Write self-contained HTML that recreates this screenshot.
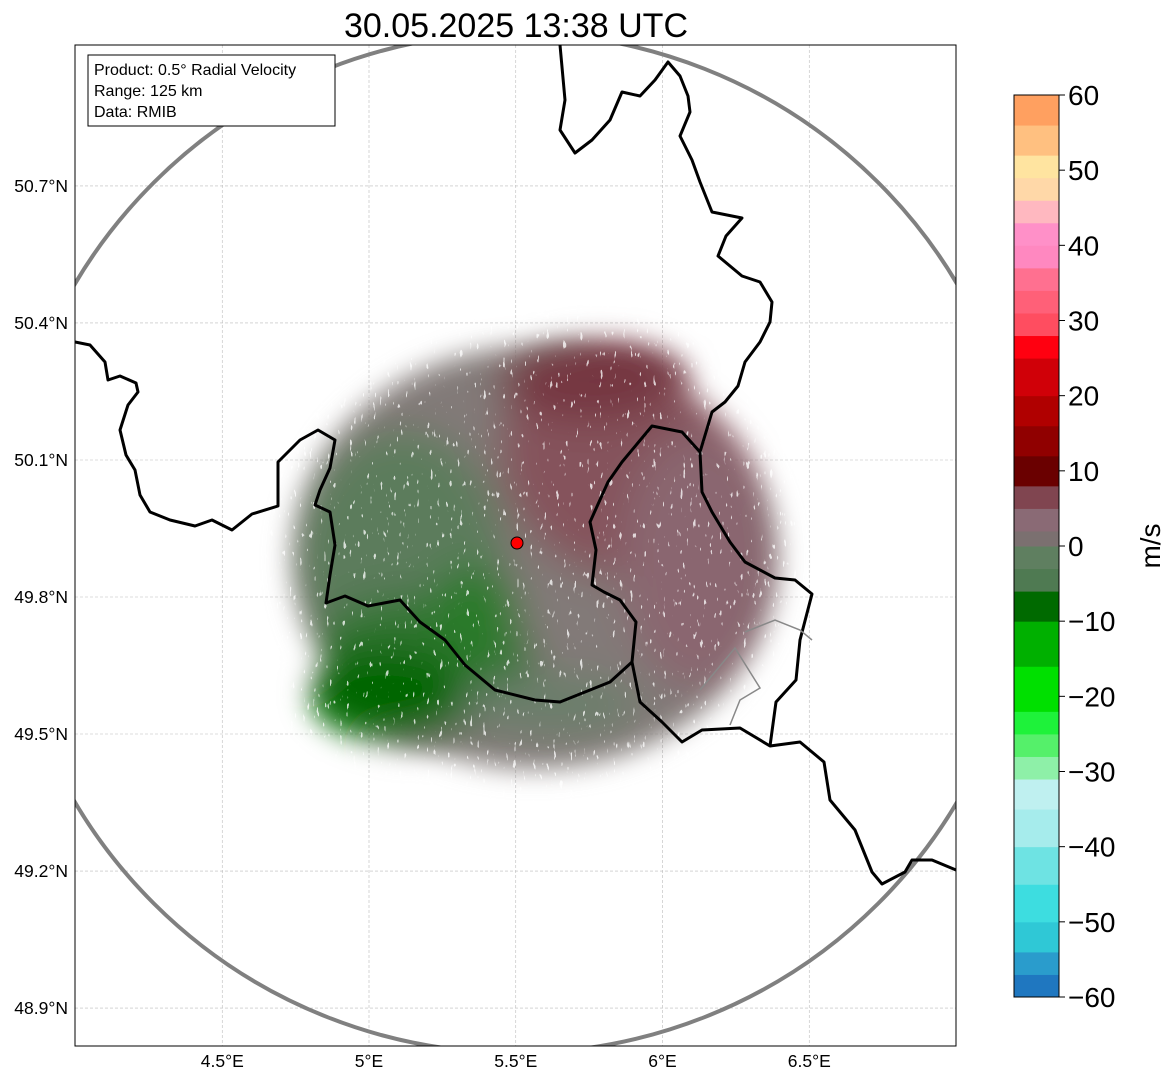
<!DOCTYPE html>
<html><head><meta charset="utf-8"><style>
body{margin:0;background:#fff;width:1171px;height:1081px;overflow:hidden;font-family:"Liberation Sans","DejaVu Sans",sans-serif}
svg text{font-family:"Liberation Sans","DejaVu Sans",sans-serif}
</style></head><body>
<svg id="s" width="1171" height="1081" viewBox="0 0 1171 1081">
<defs>
<clipPath id="clip"><rect x="75" y="45" width="881" height="1001"/></clipPath>
<filter id="blur" filterUnits="userSpaceOnUse" x="0" y="0" width="1171" height="1081"><feGaussianBlur stdDeviation="20"/></filter>
<filter id="mblur" filterUnits="userSpaceOnUse" x="0" y="0" width="1171" height="1081"><feGaussianBlur stdDeviation="14"/></filter>
<filter id="speck" filterUnits="userSpaceOnUse" x="0" y="0" width="1171" height="1081">
<feTurbulence type="fractalNoise" baseFrequency="0.3 0.1" numOctaves="2" seed="4" result="n"/>
<feColorMatrix in="n" type="matrix" values="0 0 0 0 1  0 0 0 0 1  0 0 0 0 1  0 0 0 -20 6" result="w"/>
<feComposite in="w" in2="SourceGraphic" operator="in"/>
</filter>
<mask id="em" maskUnits="userSpaceOnUse" x="0" y="0" width="1171" height="1081">
 <ellipse cx="535" cy="558" rx="245" ry="212" fill="#fff" filter="url(#mblur)"/>
 <ellipse cx="390" cy="700" rx="90" ry="55" fill="#fff" filter="url(#mblur)"/>
 <ellipse cx="600" cy="380" rx="90" ry="45" fill="#fff" filter="url(#mblur)"/>
</mask>
</defs>
<text x="516" y="37" font-size="34" text-anchor="middle">30.05.2025 13:38 UTC</text>
<g clip-path="url(#clip)">
 <g id="grid"></g>
 <g id="echo" mask="url(#em)">
  <g filter="url(#blur)">
   <ellipse cx="535" cy="555" rx="270" ry="240" fill="#827a78"/>
   <ellipse cx="640" cy="450" rx="140" ry="130" fill="#85525c"/>
   <ellipse cx="590" cy="380" rx="90" ry="40" fill="#743540"/>
   <ellipse cx="700" cy="560" rx="80" ry="130" fill="#8a6670"/>
   <ellipse cx="400" cy="560" rx="105" ry="130" fill="#5c7c5c"/>
   <ellipse cx="420" cy="665" rx="115" ry="70" fill="#307530"/>
   <ellipse cx="385" cy="695" rx="85" ry="50" fill="#006600"/>
   <ellipse cx="475" cy="615" rx="45" ry="50" fill="#2a7a2a"/>
   <ellipse cx="550" cy="705" rx="90" ry="30" fill="#6a7e6a"/>
  </g>
  <rect x="250" y="300" width="600" height="520" fill="#000" filter="url(#speck)" opacity="0.75"/>
 </g>
 <ellipse cx="516" cy="543" rx="512" ry="510" fill="none" stroke="#808080" stroke-width="4"/>
 <g fill="none" stroke="#000" stroke-width="3" stroke-linejoin="round">
  <polyline points="75,342 90,345 105,362 108,380 120,376 136,383 138,392 128,405 120,430 126,455 135,470 140,495 150,512 170,520 195,526 212,520 232,530 252,514 278,506 278,462 300,440 318,430 335,440 330,468 320,490 315,505 330,512 335,545 330,575 326,603 345,596 368,606 400,600 420,622 445,640 465,665 495,690 535,700 560,702 590,690 610,682 632,662 636,622 620,600 604,592 592,585 596,550 590,522 608,482 622,462 652,426 682,432 700,452 702,492 712,512 730,542 745,562 775,578 795,580 812,594 800,640 796,680 776,702 770,746"/>
  <polyline points="560,45 565,100 560,130 575,153 592,140 610,120 622,92 640,96 655,80 668,62 680,76 688,96 690,112 680,136 692,160 700,182 712,212 742,218 726,236 718,256 742,276 760,282 772,302 770,322 760,342 745,362 738,386 725,402 712,412 700,452"/>
  <polyline points="632,662 640,702 662,722 682,742 702,730 740,728 770,746 800,742 824,762 830,800 855,830 872,872 882,884 905,872 912,860 932,860 956,870"/>
 </g>
 <g fill="none" stroke="#888" stroke-width="1.5">
  <polyline points="745,632 775,620 800,630 812,640"/>
  <polyline points="700,690 735,648 760,688 740,700 730,725"/>
 </g>
 <circle cx="517" cy="543" r="6" fill="#f00" stroke="#000" stroke-width="1"/>
</g>
<rect x="75" y="45" width="881" height="1001" fill="none" stroke="#000" stroke-width="1"/>
<g id="xt"></g>
<g id="yt"></g>
<g>
 <rect x="88" y="55" width="247" height="71" fill="#fff" stroke="#000" stroke-width="1"/>
 <text x="94" y="75" font-size="16">Product: 0.5° Radial Velocity</text>
 <text x="94" y="96" font-size="16">Range: 125 km</text>
 <text x="94" y="117" font-size="16">Data: RMIB</text>
</g>
<g id="cb"></g>
<text transform="translate(1160,546) rotate(-90)" font-size="28" text-anchor="middle">m/s</text>
</svg>
<script>
const lonTicks=[4.5,5,5.5,6,6.5];
const lonLabels=["4.5°E","5°E","5.5°E","6°E","6.5°E"];
const latTicks=[50.7,50.4,50.1,49.8,49.5,49.2,48.9];
const latLabels=["50.7°N","50.4°N","50.1°N","49.8°N","49.5°N","49.2°N","48.9°N"];
const cbTicks=[60,50,40,30,20,10,0,-10,-20,-30,-40,-50,-60];
const cbBandLo=[-60,-57,-54,-50,-45,-40,-35,-31,-28,-25,-22,-16,-10,-6,-3,0,2,5,8,12,16,20,25,28,31,34,37,40,43,46,49,52,56];
const cbBandHi=[-57,-54,-50,-45,-40,-35,-31,-28,-25,-22,-16,-10,-6,-3,0,2,5,8,12,16,20,25,28,31,34,37,40,43,46,49,52,56,60];
const cbColors=["#1f77c0","#2a9ccc","#2fc8d6","#3ddde0","#6ee3e3","#a6ecec","#bff0f0","#8ef0a8","#55f06a","#1ef23a","#00e000","#00b000","#006a00","#4f7a52","#5f7f60","#7b7070","#8a6a75","#804550","#6a0000","#900000","#b00000","#d00008","#ff0010","#ff4d60","#ff6078","#ff7090","#ff88c0","#ff90c8","#ffb8c0","#ffd8a8","#ffe4a0","#ffc080","#ffa060"];
const NS="http://www.w3.org/2000/svg";
function X(lon){return 369+(lon-5)*293.5;}
function Y(lat){return 597-(lat-49.8)*456.7;}
function CB(v){return 997-(v+60)/120*902;}
function mk(t,a,p){const e=document.createElementNS(NS,t);for(const k in a)e.setAttribute(k,a[k]);p.appendChild(e);return e;}
const grid=document.getElementById('grid'),xt=document.getElementById('xt'),yt=document.getElementById('yt'),cb=document.getElementById('cb');
lonTicks.forEach((v,i)=>{const x=X(v);
 const l=mk('line',{x1:x,x2:x,y1:45,y2:1046,stroke:'#bbb','stroke-width':0.6,'stroke-dasharray':'3,2'},grid);
 
 const t=mk('text',{x:x,y:1067,'font-size':17.5,'text-anchor':'middle'},xt);t.textContent=lonLabels[i];
 });
latTicks.forEach((v,i)=>{const y=Y(v);
 const l=mk('line',{x1:75,x2:956,y1:y,y2:y,stroke:'#bbb','stroke-width':0.6,'stroke-dasharray':'3,2'},grid);
 
 const t=mk('text',{x:68,y:y+6,'font-size':17.5,'text-anchor':'end'},yt);t.textContent=latLabels[i];
 });
cbColors.forEach((c,i)=>{const y1=CB(cbBandHi[i]),y2=CB(cbBandLo[i]);
 const r=mk('rect',{x:1014,y:y1,width:45,height:y2-y1+0.5,fill:c},cb);
 });
const fr=mk('rect',{x:1014,y:CB(60),width:45,height:CB(-60)-CB(60),fill:'none',stroke:'#000','stroke-width':1},cb);

cbTicks.forEach(v=>{const y=CB(v);
 const l=mk('line',{x1:1059,x2:1065,y1:y,y2:y,stroke:'#000'},cb);
 
 const t=mk('text',{x:1068,y:y+10,'font-size':28},cb);t.textContent=v<0?'\u2212'+(-v):String(v);
 });
</script>
</body></html>
